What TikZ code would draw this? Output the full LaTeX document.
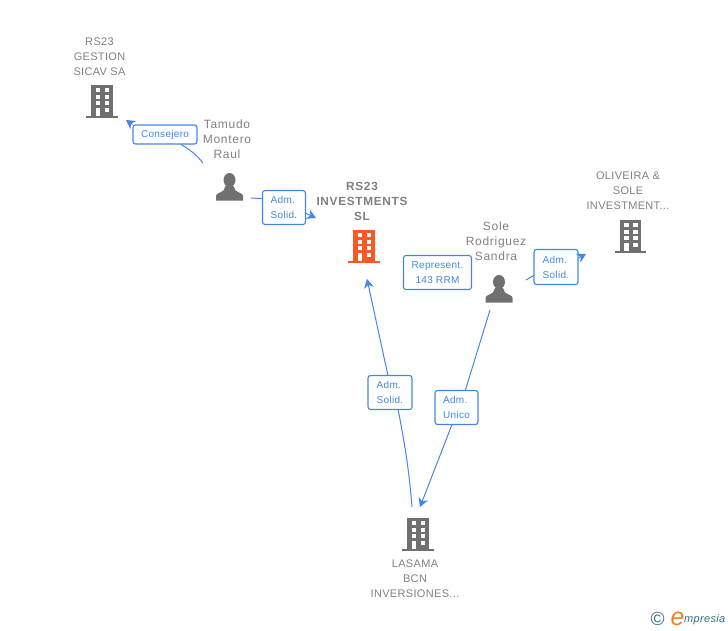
\documentclass[tikz,border=0pt]{standalone}
\usepackage{fontspec}
\setmainfont{Liberation Sans}[LetterSpace=3]
\newfontfamily\widefont{Liberation Sans}[LetterSpace=6]
\usepackage{tikz}
\usetikzlibrary{arrows.meta}
\definecolor{linkblue}{RGB}{66,134,230}
\definecolor{namegrey}{RGB}{128,128,128}
\definecolor{icongrey}{RGB}{112,112,112}
\definecolor{mainorange}{RGB}{255,87,34}
\definecolor{logoteal}{RGB}{52,110,135}
\definecolor{logoorange}{RGB}{240,130,30}
\tikzstyle{role} = [rectangle, draw=linkblue, fill=white, text=linkblue, rounded corners=2.5pt,
    line width=1.1pt, inner sep=0pt, align=left, font=\fontsize{10}{15}\selectfont]
\tikzstyle{holder} = [text=namegrey, align=center, inner sep=0pt, font=\fontsize{11}{15}\selectfont]
\tikzstyle{human} = [holder, font=\widefont\fontsize{12}{15}\selectfont]
\tikzstyle{line} = [draw=linkblue, line width=1pt]
\tikzstyle{tip} = [line, -{Stealth[length=9pt,width=10pt,inset=3pt]}]
\tikzset{
  bldg/.pic={
    \fill (-10.5,-16) rectangle (11,15);
    \fill (-15.5,14.5) rectangle (16,17);
    \foreach \yy in {-13,-6.5,0} {
      \fill[white] (-6,\yy) rectangle (-1.4,\yy+4);
      \fill[white] (3,\yy) rectangle (7.6,\yy+4);
    }
    \fill[white] (-6,6.5) rectangle (-1.4,15);
    \fill[white] (3,6.5) rectangle (7.6,10.5);
  },
  person/.pic={
    \fill (0,-7) circle (6 and 7);
    \fill (-13.5,13.5) -- (-13.5,9) .. controls (-13.5,6.5) and (-9,5.5) .. (-6,3.5) -- (-4,-1) -- (4,-1)
      -- (6,3.5) .. controls (9,5.5) and (13.5,6.5) .. (13.5,9) -- (13.5,13.5) -- cycle;
  }
}
\begin{document}
\begin{tikzpicture}[x=1pt, y=-1pt]
    \useasboundingbox (0,0) rectangle (728,630);
    % Place icons
    \pic[icongrey] at (101.5,101) {bldg};
    \pic[mainorange] at (363.5,246) {bldg};
    \pic[icongrey] at (630,236) {bldg};
    \pic[icongrey] at (417.5,534) {bldg};
    \pic[icongrey] at (229.5,187) {person};
    \pic[icongrey] at (499,289) {person};
    % Place names
    \node [holder] (gestion) at (99.5,56.4) {RS23\\GESTION\\SICAV SA};
    \node [human] (tamudo) at (227,139) {Tamudo\\Montero\\Raul};
    \node [holder, font=\widefont\fontsize{11.8}{15}\bfseries\selectfont] (investments) at (362,201) {RS23\\INVESTMENTS\\SL};
    \node [human] (sole) at (496,241) {Sole\\Rodriguez\\Sandra};
    \node [holder] (oliveira) at (628,191) {OLIVEIRA \&\\SOLE\\INVESTMENT...};
    \node [holder] (lasama) at (415,579) {LASAMA\\BCN\\INVERSIONES...};
    % Place roles
    \node [role, minimum width=64pt, minimum height=19pt, align=center] (consejero) at (165,134.5) {Consejero};
    \node [role, minimum width=43pt, minimum height=34pt] (admone) at (284,207.5) {Adm.\\Solid.};
    \node [role, minimum width=68pt, minimum height=34pt, align=center] (represent) at (437.5,272.5) {Represent.\\143 RRM};
    \node [role, minimum width=44pt, minimum height=35pt] (admtwo) at (556,267) {Adm.\\Solid.};
    \node [role, minimum width=44pt, minimum height=34pt] (admthree) at (390,392.5) {Adm.\\Solid.};
    \node [role, minimum width=43pt, minimum height=34pt] (unico) at (456.5,407.5) {Adm.\\Unico};
    % Free ends
    \coordinate (tamudoout) at (203,163);
    \coordinate (tamudoright) at (251,198);
    \coordinate (soleright) at (526,280);
    \coordinate (soledown) at (490,310);
    \coordinate (lasamaup) at (412,507);
    \coordinate (gestionin) at (126,120);
    \coordinate (investin) at (316,218);
    \coordinate (investdown) at (367,279);
    \coordinate (oliveirain) at (586,254);
    \coordinate (lasamain) at (420,507);
    % Draw edges
    \path [line] (tamudoout) .. controls (197,155) and (189,149) .. (consejero.-32);
    \path [tip] (consejero.north west) -- (gestionin);
    \path [line] (tamudoright) -- (admone.158);
    \path [tip] (admone.-15) -- (investin);
    \path [line] (soleright) -- (admtwo.201);
    \path [tip] (admtwo.22) -- (oliveirain);
    \path [line] (lasamaup) .. controls (409,470) and (405,445) .. (admthree.-65);
    \path [tip] (admthree.97) -- (investdown);
    \path [line] (soledown) -- (unico.63);
    \path [tip] (unico.-105) -- (lasamain);
    % Logo
    \node [text=logoteal, inner sep=0pt, font=\fontsize{19}{19}\selectfont] (copy) at (657.5,618.5) {©};
    \node [text=logoorange, inner sep=0pt, font=\fontsize{25}{25}\itshape\selectfont] (logoe) at (677.5,618.5) {e};
    \node [text=logoteal, inner sep=0pt, anchor=base west, font=\fontsize{11}{12}\itshape\selectfont] (logotext) at (684,622.5) {mpresia};
\end{tikzpicture}
\end{document}
